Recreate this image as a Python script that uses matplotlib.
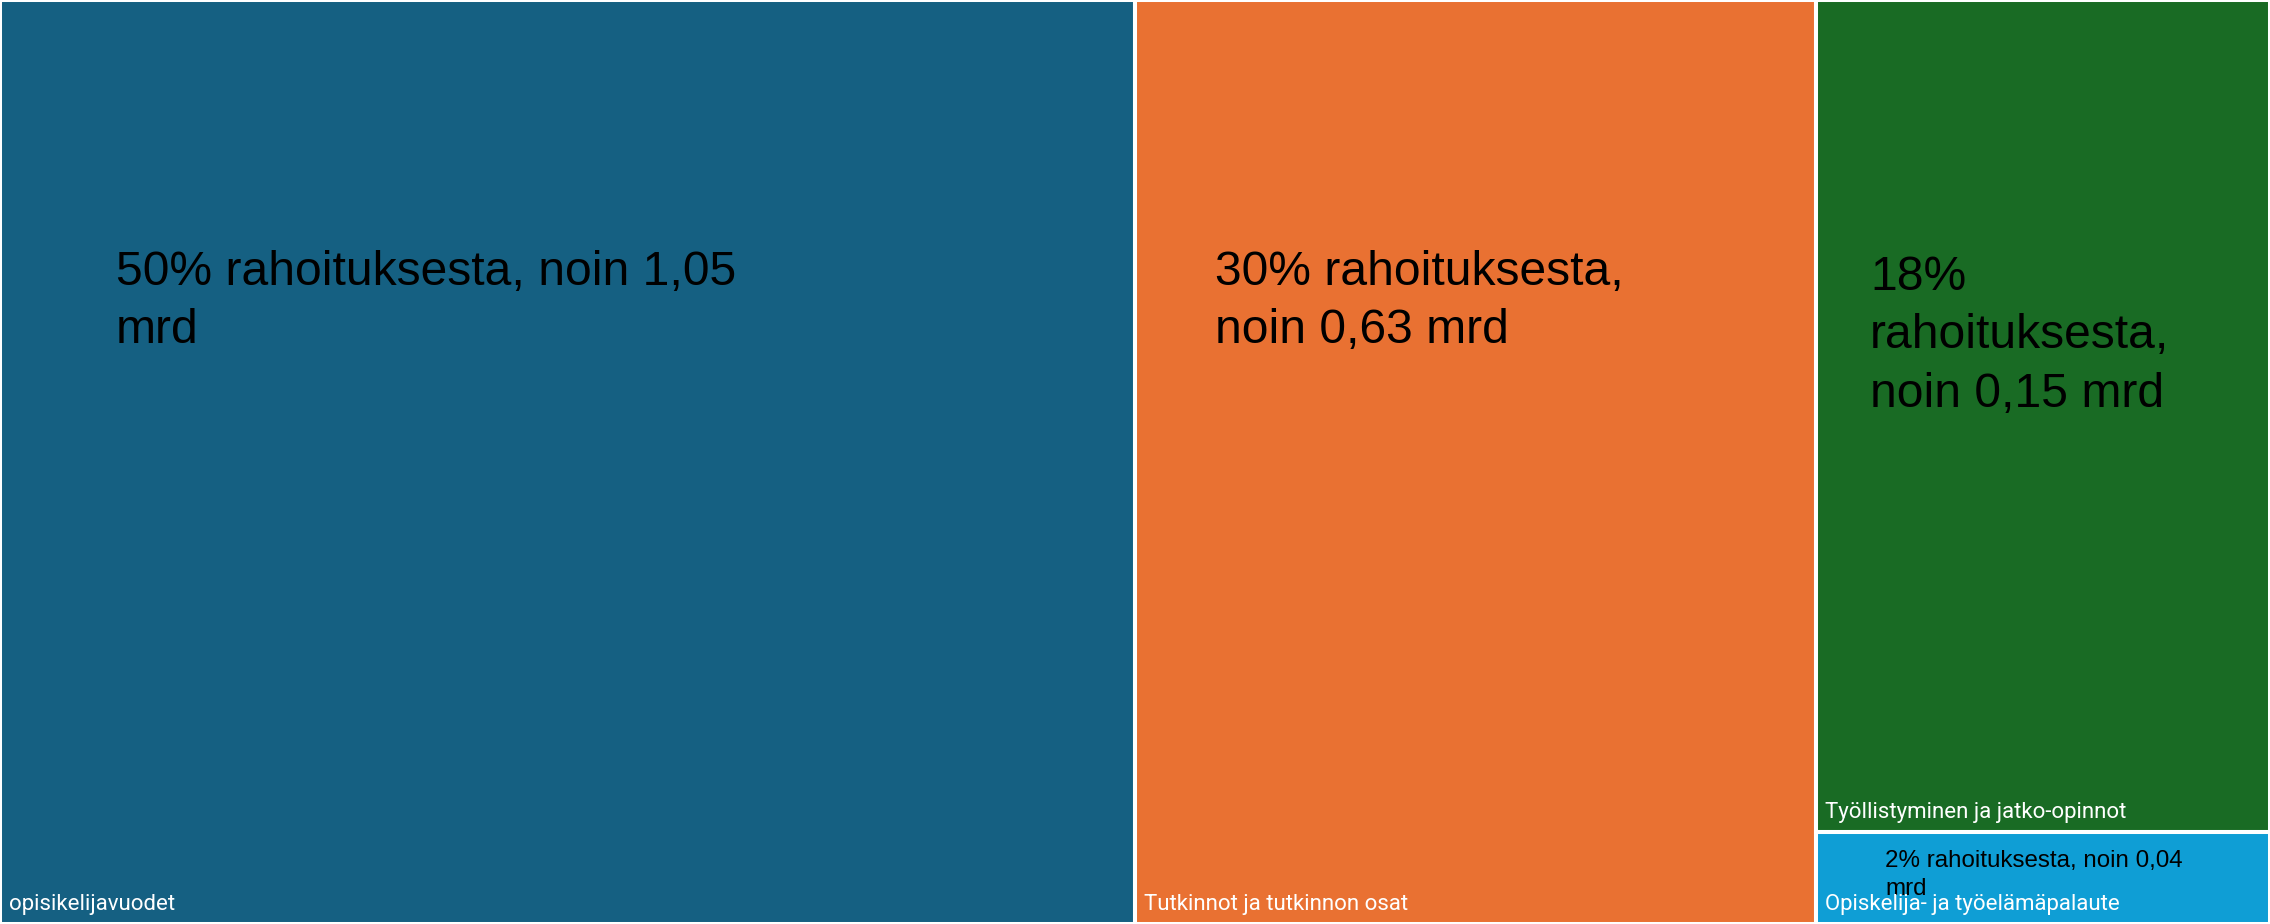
import matplotlib.pyplot as plt
from matplotlib.patches import Rectangle

# treemap data (share of funding, %)
categories = ['opisikelijavuodet', 'Tutkinnot ja tutkinnon osat',
              'Työllistyminen ja jatko-opinnot', 'Opiskelija- ja työelämäpalaute']
shares = [50, 30, 18, 2]
value_labels = ['50% rahoituksesta, noin 1,05\nmrd',
                '30% rahoituksesta,\nnoin 0,63 mrd',
                '18%\nrahoituksesta,\nnoin 0,15 mrd',
                '2% rahoituksesta, noin 0,04\nmrd']
colors = ['#156082', '#E97132', '#196B24', '#0F9ED5']

# label placement (pixels from box top-left) and size
value_offsets = [(116, 250), (80, 250), (54, 255), (69, 18)]
value_sizes = [34.6, 34.6, 34.6, 17.4]

fig = plt.figure(figsize=(22.7, 9.24), dpi=100)
ax = fig.add_axes([0, 0, 1, 1])
total = sum(shares)

# layout: first two items are full-height columns, the rest stack in the last column
rects = []
x = 0
for s in shares[:2]:
    rects.append((x, 0, s, 1))
    x += s
col_w = total - x
col_total = sum(shares[2:])
y = 0
for s in shares[2:]:
    h = s / col_total
    rects.append((x, y, col_w, h))
    y += h

for (x0, y0, w, h), c, cat, lab, off, fs in zip(rects, colors, categories, value_labels,
                                                value_offsets, value_sizes):
    ax.add_patch(Rectangle((x0, y0), w, h, facecolor=c, edgecolor='white', linewidth=2.9))
    ax.annotate(lab, xy=(x0, y0), xycoords='data', xytext=(off[0], -off[1]),
                textcoords='offset pixels', ha='left', va='top', fontsize=fs,
                family='Liberation Sans', color='black', linespacing=1.38)
    ax.annotate(cat, xy=(x0, y0 + h), xycoords='data', xytext=(9, 14),
                textcoords='offset pixels', ha='left', va='baseline', fontsize=16,
                family='Roboto', color='white')

ax.set_xlim(0, total)
ax.set_ylim(1, 0)
ax.axis('off')
plt.savefig('out.png', dpi=100)
